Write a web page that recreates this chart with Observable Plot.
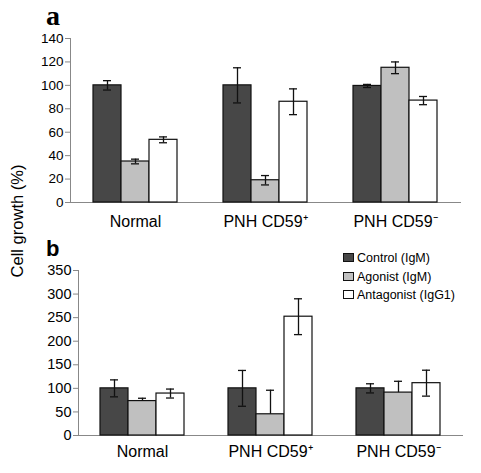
<!DOCTYPE html>
<html><head><meta charset="utf-8">
<script src="https://cdn.jsdelivr.net/npm/d3@7"></script>
<script src="https://cdn.jsdelivr.net/npm/@observablehq/plot@0.6"></script>
<style>
body{margin:0;background:#fff;}
#chart{position:relative;width:481px;height:473px;font-family:"Liberation Sans",Arial,sans-serif;color:#000;overflow:hidden;}
.panel{position:absolute;left:0;}
.tag{position:absolute;line-height:1;}
#ylab{position:absolute;left:17px;top:221px;transform:translate(-50%,-50%) rotate(-90deg);white-space:nowrap;font-size:16.5px;}
.leg{position:absolute;left:343px;height:16px;line-height:16px;font-size:12.5px;white-space:nowrap;}
.sw{display:inline-block;width:9px;height:7px;border:1px solid #111;margin-right:3px;vertical-align:-0px;}
</style></head><body><div id="chart"></div>
<script>
const categories = ["Normal", "PNH CD59\u207A", "PNH CD59\u207B"];
const series = ["Control (IgM)", "Agonist (IgM)", "Antagonist (IgG1)"];
const colors = ["#474747", "#c0c0c0", "#ffffff"];

const yTicksA = [0, 20, 40, 60, 80, 100, 120, 140];
const yTicksB = [0, 50, 100, 150, 200, 250, 300, 350];

// Panel a values (per category) and error half-widths
const aControl = [100, 100, 99.5];
const aAgonist = [35, 19, 115];
const aAntagonist = [53.5, 86, 87];
const aControlErr = [4, 15, 1.3];
const aAgonistErr = [2, 4, 5];
const aAntagonistErr = [2.5, 11, 3.5];

// Panel b values
const bControl = [100, 100, 100];
const bAgonist = [73, 45, 91];
const bAntagonist = [89, 252, 111];
const bControlErr = [18, 38, 9.7];
const bAgonistErr = [6, 51, 24];
const bAntagonistErr = [9.5, 38, 27.5];
// whether the lower half of each series' error bar is shown in panel b
const bLowerShown = [true, false, true];

function rows(valueArrays, errArrays, lowerShown) {
  const out = [];
  categories.forEach((c, i) => {
    series.forEach((s, j) => {
      const v = valueArrays[j][i], e = errArrays[j][i];
      out.push({category: c, series: s, value: v, high: v + e,
                low: lowerShown[j] ? v - e : v, showLow: lowerShown[j]});
    });
  });
  return out;
}

const dataA = rows([aControl, aAgonist, aAntagonist], [aControlErr, aAgonistErr, aAntagonistErr], [true, true, true]);
const dataB = rows([bControl, bAgonist, bAntagonist], [bControlErr, bAgonistErr, bAntagonistErr], bLowerShown);

function panel({data, yDomain, yTicks, height, marginTop, marginBottom, marginLeft, marginRight, fxPadding, xPad, tickFont}) {
  const st = {stroke: "#111", strokeWidth: 1.3};
  return Plot.plot({
    width: 481, height, marginTop, marginBottom, marginLeft, marginRight,
    style: {fontFamily: "Liberation Sans, Arial, sans-serif", background: "transparent", color: "#000", overflow: "visible"},
    fx: {domain: categories, padding: 0, label: null},
    x: {domain: series, paddingInner: 0, paddingOuter: xPad, axis: null},
    y: {domain: yDomain, axis: null},
    color: {domain: series, range: colors},
    marks: [
      Plot.frame({anchor: "bottom", stroke: "#888"}),
      Plot.frame({anchor: "left", stroke: "#888", facetAnchor: "left"}),
      Plot.barY(data, {fx: "category", x: "series", y: "value", fill: "series", stroke: "#111", strokeWidth: 1.2}),
      Plot.ruleX(data, {fx: "category", x: "series", y1: "low", y2: "high", ...st}),
      Plot.tickY(data, {fx: "category", x: "series", y: "high", insetLeft: 10, insetRight: 10, ...st}),
      Plot.tickY(data.filter(d => d.showLow), {fx: "category", x: "series", y: "low", insetLeft: 10, insetRight: 10, ...st}),
      Plot.axisY({ticks: yTicks, tickSize: 5, tickPadding: 2, fontSize: tickFont, stroke: "#888", fill: "#000", label: null}),
      Plot.axisFx({anchor: "bottom", tickSize: 0, tickPadding: fxPadding, fontSize: 16, label: null})
    ]
  });
}

const chart = document.getElementById("chart");

const pa = panel({data: dataA, yDomain: [0, 140], yTicks: yTicksA, height: 230,
  marginTop: 38, marginBottom: 28, marginLeft: 70, marginRight: 21, fxPadding: 13, xPad: 0.767, tickFont: 13.5});
pa.classList.add("panel"); pa.style.top = "0px";
chart.appendChild(pa);

const pb = panel({data: dataB, yDomain: [0, 350], yTicks: yTicksB, height: 233,
  marginTop: 30, marginBottom: 38, marginLeft: 77, marginRight: 19, fxPadding: 10, xPad: 0.738, tickFont: 14.5});
pb.classList.add("panel"); pb.style.top = "240px";
chart.appendChild(pb);

function addDiv(cls, text, styles) {
  const d = document.createElement("div");
  d.className = cls; d.textContent = text;
  Object.assign(d.style, styles || {});
  chart.appendChild(d);
  return d;
}
addDiv("tag", "a", {left: "46px", top: "2px", fontFamily: "'Liberation Serif', serif", fontWeight: "bold", fontSize: "28px"});
addDiv("tag", "b", {left: "46px", top: "238px", fontFamily: "'Liberation Sans', sans-serif", fontWeight: "bold", fontSize: "22px"});
const yl = addDiv("", "Cell growth (%)"); yl.id = "ylab";

const legendTops = [250, 269, 287];
series.forEach((s, i) => {
  const row = document.createElement("div");
  row.className = "leg"; row.style.top = legendTops[i] + "px";
  const sw = document.createElement("span");
  sw.className = "sw"; sw.style.background = colors[i];
  row.appendChild(sw);
  row.appendChild(document.createTextNode(s));
  chart.appendChild(row);
});
</script>
</body></html>
